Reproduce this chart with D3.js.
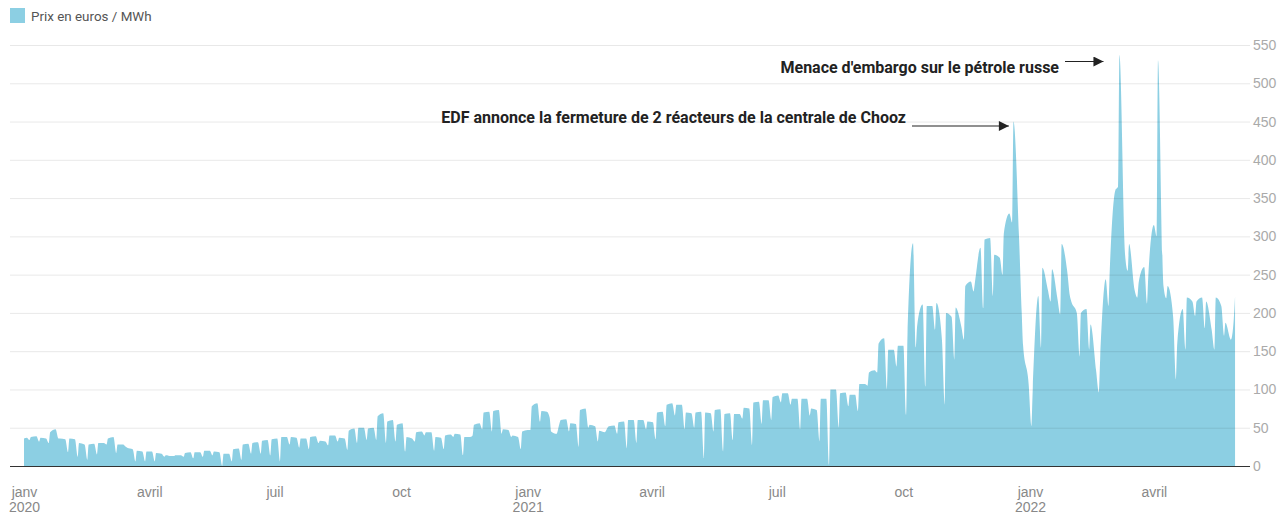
<!DOCTYPE html>
<html>
<head>
<meta charset="utf-8">
<script src="https://cdn.jsdelivr.net/npm/d3@7"></script>
<style>
  body { margin: 0; background: #fff; }
  svg { display: block; font-family: Roboto, "Open Sans", sans-serif; }
</style>
</head>
<body>
<svg id="chart" width="1278" height="514"></svg>
<script>
'use strict';

// Prix spot de l'électricité (euros / MWh), un point le lundi, le vendredi et le dimanche
// 2020 : 1er janvier puis [ven, dim, lun] par semaine
const price2020 = [36,
  37, 34, 38,  39, 32, 37,  36, 30, 44,  48, 36, 36,  35, 18, 36,  35, 12, 30,
  28, 8, 28,   29, 15, 30,  30, 28, 36,  38, 17, 28,  28, 25, 24,  22, 6, 20,
  19, 6, 19,   19, 6, 17,   16, 12, 14,  13, 13, 14,  14, 12, 17,  18, 10, 18,
  18, 12, 20,  20, 14, 19,  18, 0, 16,   16, 6, 22,   23, 8, 28,   29, 16, 30,
  31, 16, 33,  34, 14, 35,  36, 6, 38,   38, 28, 38,  37, 24, 36,  36, 22, 38,
  39, 30, 33,  32, 27, 40,  40, 32, 37,  36, 21, 46,  49, 30, 50,  50, 34, 49,
  50, 34, 65,  69, 30, 58,  60, 32, 54,  56, 19, 38,  36, 32, 44,  45, 40, 44,
  44, 20, 38,  37, 22, 40,  41, 38, 42,  41, 14, 38,  38, 40, 54,  56, 48, 70,
  71, 45, 72,  73, 42, 48,  47, 38, 40,  38, 22, 45
];

const price2021 = [
  47, 47, 78,  82, 58, 72,  71, 63, 45,  42, 55, 60,  61, 45, 56,  55, 25, 73,
  75, 50, 54,  52, 32, 46,  44, 50, 52,  53, 42, 57,  58, 23, 60,  60, 30, 60,
  60, 48, 58,  57, 35, 70,  71, 52, 80,  82, 66, 80,  80, 48, 70,  69, 50, 70,
  71, 10, 70,  69, 45, 73,  74, 19, 68,  69, 34, 68,  68, 62, 76,  75, 27, 83,
  84, 55, 86,  86, 60, 90,  92, 83, 95,  95, 80, 88,  88, 48, 88,  88, 66, 75,
  73, 32, 88,  88, 2, 100,  100, 50, 95, 96, 78, 93,  93, 72, 107, 107, 105, 122,
  125, 122, 160, 167, 100, 152, 152, 130, 157, 157, 67, 172, 291, 155, 183,
  211, 104, 209, 209, 178, 213, 165, 80, 200, 195, 139, 207, 183, 165, 235,
  241, 228, 240, 285, 206, 296, 298, 222, 276, 272, 250, 304, 330, 318, 450,
  300, 200, 157, 107
];

// 2022 : commence au dimanche 2 janvier
const price2022 = [52, 100,
  222, 154, 259, 230, 215, 257, 218, 198, 290, 255, 222, 215, 200, 143, 200,
  205, 152, 185, 125, 96, 140,  244, 209, 258, 360, 365, 537, 278, 255, 290,
  230, 220, 240, 260, 212, 250, 315, 300, 530, 235, 219, 235, 195, 113, 160,
  205, 152, 220, 215, 196, 215, 220, 180, 215, 178, 152, 220, 209, 170, 187,
  165, 190, 222
];

const yTicks = [0, 50, 100, 150, 200, 250, 300, 350, 400, 450, 500, 550];
const monthNames = { 0: 'janv', 3: 'avril', 6: 'juil', 9: 'oct' };
const annotations = [
  { text: 'EDF annonce la fermeture de 2 réacteurs de la centrale de Chooz', date: '2021-12-21', value: 450 },
  { text: "Menace d'embargo sur le pétrole russe", date: '2022-03-07', value: 537 }
];

const svg = d3.select('#chart');

// dates of the samples for one year: mondays, fridays and sundays
function sampleDates(start, end) {
  return d3.utcDay.range(start, end)
    .filter(d => +d === Date.UTC(2020, 0, 1) || [0, 1, 5].includes(d.getUTCDay()));
}

function zip(dates, values) {
  const n = Math.min(dates.length, values.length);
  return d3.range(n).map(i => ({ date: dates[i], value: values[i] }));
}

const data = [
  ...zip(sampleDates(new Date(Date.UTC(2020, 0, 1)), new Date(Date.UTC(2021, 0, 1))), price2020),
  ...zip(sampleDates(new Date(Date.UTC(2021, 0, 1)), new Date(Date.UTC(2022, 0, 1))), price2021),
  ...zip(sampleDates(new Date(Date.UTC(2022, 0, 1)), new Date(Date.UTC(2022, 5, 1))), price2022)
];

const x = d3.scaleUtc()
  .domain([new Date(Date.UTC(2020, 0, 1)), new Date(Date.UTC(2022, 0, 1))])
  .range([24, 1030]);

const y = d3.scaleLinear()
  .domain([0, 550])
  .range([466, 45]);

// legend
svg.append('rect')
  .attr('x', 10).attr('y', 8).attr('width', 15).attr('height', 15)
  .attr('fill', '#8ccfe3');
svg.append('text')
  .attr('x', 31).attr('y', 20.5)
  .attr('font-size', 13.4).attr('fill', '#555')
  .text('Prix en euros / MWh');

// area
const area = d3.area()
  .x(d => x(d.date))
  .y0(y(0))
  .y1(d => y(d.value))
  .curve(d3.curveMonotoneX);

svg.append('path')
  .datum(data)
  .attr('d', area)
  .attr('fill', '#8ccfe3');

// gridlines over the area
svg.append('g')
  .selectAll('line')
  .data(yTicks.filter(t => t > 0))
  .join('line')
  .attr('x1', 10).attr('x2', 1250)
  .attr('y1', d => y(d) + 0.5).attr('y2', d => y(d) + 0.5)
  .attr('stroke', '#000').attr('stroke-opacity', 0.09);

svg.append('line')
  .attr('x1', 10).attr('x2', 1250)
  .attr('y1', y(0) + 0.5).attr('y2', y(0) + 0.5)
  .attr('stroke', '#333');

// y axis on the right
const yAxis = svg.append('g')
  .attr('transform', 'translate(1247,0)')
  .call(d3.axisRight(y).tickValues(yTicks).tickSize(0).tickPadding(6));
yAxis.select('.domain').remove();
yAxis.selectAll('text').attr('font-size', 14).attr('fill', '#aaa').attr('font-family', null);

// x axis
const xTicks = d3.utcMonth.range(new Date(Date.UTC(2020, 0, 1)), new Date(Date.UTC(2022, 5, 1)))
  .filter(d => d.getUTCMonth() % 3 === 0);

const xAxis = svg.append('g')
  .attr('transform', `translate(0,${y(0)})`)
  .call(d3.axisBottom(x).tickValues(xTicks).tickSize(0).tickPadding(0)
    .tickFormat(d => monthNames[d.getUTCMonth()]));
xAxis.select('.domain').remove();
xAxis.selectAll('text')
  .attr('y', 30.5).attr('dy', null)
  .attr('font-size', 14).attr('fill', '#888').attr('font-family', null);
xAxis.selectAll('.tick')
  .filter(d => d.getUTCMonth() === 0)
  .append('text')
  .attr('y', 45.5)
  .attr('font-size', 14).attr('fill', '#888')
  .text(d => d.getUTCFullYear());

// annotations
svg.append('defs').append('marker')
  .attr('id', 'arrow')
  .attr('viewBox', '0 0 10 10')
  .attr('refX', 10).attr('refY', 5)
  .attr('markerWidth', 11).attr('markerHeight', 10)
  .attr('markerUnits', 'userSpaceOnUse')
  .attr('orient', 'auto')
  .append('path').attr('d', 'M0,0L10,5L0,10z').attr('fill', '#222');

const edf = annotations[0];
const edfX = x(new Date(edf.date));
svg.append('text')
  .attr('x', 906).attr('y', 123)
  .attr('text-anchor', 'end')
  .attr('font-size', 16).attr('font-weight', 'bold').attr('fill', '#222')
  .text(edf.text);
svg.append('line')
  .attr('x1', 912).attr('x2', edfX - 6)
  .attr('y1', 126).attr('y2', 126)
  .attr('stroke', '#222').attr('stroke-width', 1.2)
  .attr('marker-end', 'url(#arrow)');

const oil = annotations[1];
const oilX = x(new Date(oil.date));
svg.append('text')
  .attr('x', 1059).attr('y', 73)
  .attr('text-anchor', 'end')
  .attr('font-size', 16).attr('font-weight', 'bold').attr('fill', '#222')
  .text(oil.text);
svg.append('line')
  .attr('x1', 1065).attr('x2', oilX - 16)
  .attr('y1', 61.5).attr('y2', 61.5)
  .attr('stroke', '#222').attr('stroke-width', 1.2)
  .attr('marker-end', 'url(#arrow)');
</script>
</body>
</html>
